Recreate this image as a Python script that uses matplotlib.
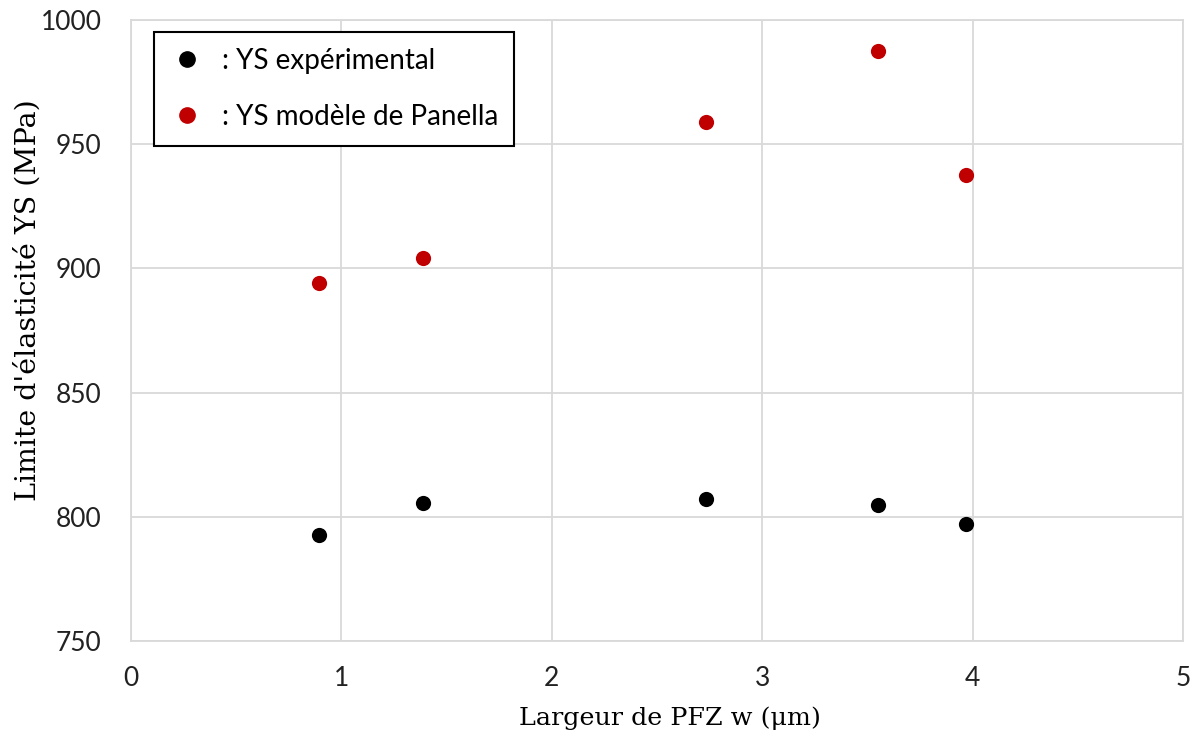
import matplotlib
matplotlib.use("Agg")
import matplotlib.pyplot as plt
from matplotlib.lines import Line2D

w_pfz = [0.895, 1.386, 2.733, 3.552, 3.967]
ys_exp = [792.7, 805.6, 807.2, 804.8, 797.1]
ys_panella = [894.1, 904.2, 958.9, 987.5, 937.6]
x_ticks = [0, 1, 2, 3, 4, 5]
y_ticks = [750, 800, 850, 900, 950, 1000]

fig = plt.figure(figsize=(11.96, 7.38), dpi=100)
ax = fig.add_axes([0.1095, 0.1314, 0.8796, 0.8415])

ax.scatter(w_pfz, ys_exp, s=120, color="black", zorder=3, linewidths=0)
ax.scatter(w_pfz, ys_panella, s=120, color="#c00000", zorder=3, linewidths=0)

ax.set_xlim(0, 5)
ax.set_ylim(750, 1000)
ax.set_xticks(x_ticks)
ax.set_yticks(y_ticks)
ax.grid(True, color="#d9d9d9", linewidth=1.3, zorder=0)
ax.set_axisbelow(True)
for s in ax.spines.values():
    s.set_color("#d9d9d9")
    s.set_linewidth(1.3)
ax.tick_params(axis="y", length=0, pad=21, labelsize=19, labelcolor="#222222")
ax.tick_params(axis="x", length=0, pad=18, labelsize=19, labelcolor="#222222")
for lab in ax.get_xticklabels() + ax.get_yticklabels():
    lab.set_family("Lato")

ax.set_xlabel("Largeur de PFZ w (μm)", family="DejaVu Serif", fontsize=18.3)
ax.set_ylabel("Limite d'élasticité YS (MPa)", family="DejaVu Serif", fontsize=20.5)
ax.xaxis.set_label_coords(0.512, -0.105)
ax.yaxis.set_label_coords(-0.085, 0.549)

handles = [
    Line2D([], [], marker="o", linestyle="none", color="black", markersize=11),
    Line2D([], [], marker="o", linestyle="none", color="#c00000", markersize=11),
]
leg = ax.legend(handles, [": YS expérimental", ": YS modèle de Panella"],
                loc="upper left", bbox_to_anchor=(0.022, 0.981),
                prop={"family": "Lato", "size": 20}, fancybox=False,
                edgecolor="black", framealpha=1, borderpad=0.57,
                handlelength=1.24, labelspacing=1.1, handletextpad=0.64,
                borderaxespad=0)
leg.get_frame().set_linewidth(1.5)

fig.savefig("out.png", dpi=100)
